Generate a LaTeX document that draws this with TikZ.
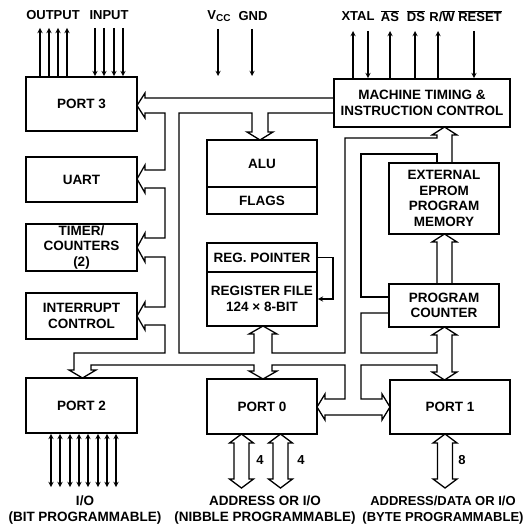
\documentclass[tikz,border=0pt]{standalone}
\usepackage{fontspec}
\setmainfont{Liberation Sans}
\usetikzlibrary{calc}
\newcommand{\ovl}[1]{$\overline{\hbox{#1}}$}

\begin{document}
\begin{tikzpicture}[x=1pt, y=-1pt,
    blk/.style={draw, line width=1.9pt, align=center, inner sep=0pt, minimum width=110pt,
      font=\bfseries\fontsize{13.5}{15.5}\selectfont},
    bus/.style={line width=1.3pt, line join=miter},
    sig/.style={line width=1.3pt, ->, >=stealth},
    lbl/.style={font=\bfseries\fontsize{13}{16}\selectfont, align=center},
    note/.style={font=\bfseries\fontsize{13.5}{16}\selectfont, align=center}]
  \useasboundingbox (0,0) rectangle (525,524);

  \node (port3) at (81.5,104) [blk, minimum width=111pt, minimum height=54pt] {PORT 3};
  \node (uart) at (81.5,179.5) [blk, minimum width=111pt, minimum height=45pt] {UART};
  \node (timer) at (81.5,247.5) [blk, minimum width=111pt, minimum height=47pt] {TIMER/\\COUNTERS\\(2)};
  \node (intr) at (81.5,316) [blk, minimum width=111pt, minimum height=46pt] {INTERRUPT\\CONTROL};
  \node (port2) at (81.5,405.5) [blk, minimum width=111pt, minimum height=55pt] {PORT 2};
  \node (alu) at (262,163.5) [blk, minimum height=47pt] {ALU};
  \node (flags) at (262,200.5) [blk, minimum height=27pt] {FLAGS};
  \node (regptr) at (262,257.5) [blk, minimum height=29pt] {REG. POINTER};
  \node (regfile) at (262,299) [blk, minimum height=54pt] {REGISTER FILE\\124 × 8-BIT};
  \node (mtic) at (422,103) [blk, minimum width=176pt, minimum height=48pt] {MACHINE TIMING \&\\INSTRUCTION CONTROL};
  \node (eprom) at (444,198.5) [blk, minimum height=71pt] {EXTERNAL\\EPROM\\PROGRAM\\MEMORY};
  \node (pc) at (444,305.5) [blk, minimum height=43pt] {PROGRAM\\COUNTER};
  \node (port0) at (262,406.5) [blk, minimum height=55pt] {PORT 0};
  \node (port1) at (450,407) [blk, minimum width=120pt, minimum height=54pt] {PORT 1};

  \node (output) at (53,15) [lbl] {OUTPUT};
  \node (input) at (109,15) [lbl] {INPUT};
  \node (vcc) at (219,16) [lbl] {V\raisebox{-0.35ex}{\fontsize{10}{10}\selectfont CC}};
  \node (gnd) at (253,16) [lbl] {GND};
  \node (xtal) at (358,16) [lbl] {XTAL};
  \node (as) at (390,16) [lbl] {\ovl{AS}};
  \node (ds) at (416,16) [lbl] {\ovl{DS}};
  \node (rw) at (442,16) [lbl] {R/\ovl{W}};
  \node (reset) at (480,16) [lbl] {\ovl{RESET}};

  \foreach \x in {40,49,58,67} \draw[sig] (\x,0 |- port3.north) -- (\x,28);
  \foreach \x in {95,104,114,123} \draw[sig] (\x,28) -- (\x,0 |- port3.north);
  \draw[sig] (218,29) -- (218,76);
  \draw[sig] (252,29) -- (252,76);
  \foreach \x in {353,390,415,438} \draw[sig] (\x,0 |- mtic.north) -- (\x,31);
  \foreach \x in {368,474} \draw[sig] (\x,31) -- (\x,0 |- mtic.north);
  \draw[sig] (regptr.east) -- ++(15,0) |- (regfile.east);
  \foreach \x in {51,60,70,79,88,98,107,116} \draw[sig, <->] (\x,0 |- port2.south) -- (\x,487);

  \draw[bus] (334,98) -- (145,98) -- (145,93) -- (137,105.5) -- (145,118) -- (145,113) -- (165,113)
    -- (165,170) -- (145,170) -- (145,165) -- (137,179) -- (145,193) -- (145,188) -- (165,188)
    -- (165,238) -- (145,238) -- (145,233) -- (137,247.5) -- (145,262) -- (145,257) -- (165,257)
    -- (165,307) -- (145,307) -- (145,302) -- (137,316) -- (145,330) -- (145,325) -- (165,325)
    -- (165,353) -- (74,353) -- (74,370) -- (69,370) -- (82.5,378) -- (96,370) -- (91,370) -- (91,365)
    -- (254,365) -- (254,371) -- (249,371) -- (263,379) -- (277,371) -- (272,371) -- (272,365)
    -- (345,365) -- (345,399) -- (325,399) -- (325,394) -- (317,407) -- (325,420) -- (325,415)
    -- (382,415) -- (382,420) -- (390,407) -- (382,394) -- (382,399) -- (361,399)
    -- (361,365) -- (437,365) -- (437,372) -- (432,372) -- (444.5,380) -- (457,372) -- (452,372)
    -- (452,335) -- (457,335) -- (444.5,327) -- (432,335) -- (437,335) -- (437,353) -- (361,353)
    -- (361,313) -- (389,313);
  \draw[bus] (389,297) -- (361,297) -- (361,154) -- (437,154) -- (437,163);
  \draw[bus] (452,163) -- (452,135) -- (457,135) -- (444.5,127) -- (432,135) -- (437,135) -- (437,138)
    -- (345,138) -- (345,353) -- (272,353) -- (272,334) -- (277,334) -- (263,326) -- (249,334)
    -- (254,334) -- (254,353) -- (179,353) -- (179,113) -- (252,113) -- (252,132) -- (247,132)
    -- (260,140) -- (273,132) -- (268,132) -- (268,113) -- (334,113);
  \draw[bus] (437,284) -- (437,242) -- (432,242) -- (444.5,234) -- (457,242) -- (452,242) -- (452,284);
  \foreach \c in {241.5,280.5,445}
    \draw[bus] ({\c-7.5},443) -- ({\c-12},443) -- (\c,434) -- ({\c+12},443) -- ({\c+7.5},443)
      -- ({\c+7.5},479) -- ({\c+12},479) -- (\c,488) -- ({\c-12},479) -- ({\c-7.5},479) -- cycle;

  \node (n4a) at (260,460) [lbl] {4};
  \node (n4b) at (301,460) [lbl] {4};
  \node (n8) at (462,460) [lbl] {8};
  \node (io2) at (85,510) [note] {I/O\\(BIT PROGRAMMABLE)};
  \node (io0) at (265,510) [note] {ADDRESS OR I/O\\(NIBBLE PROGRAMMABLE)};
  \node (io1) at (443,510) [lbl] {ADDRESS/DATA OR I/O\\(BYTE PROGRAMMABLE)};
\end{tikzpicture}
\end{document}
